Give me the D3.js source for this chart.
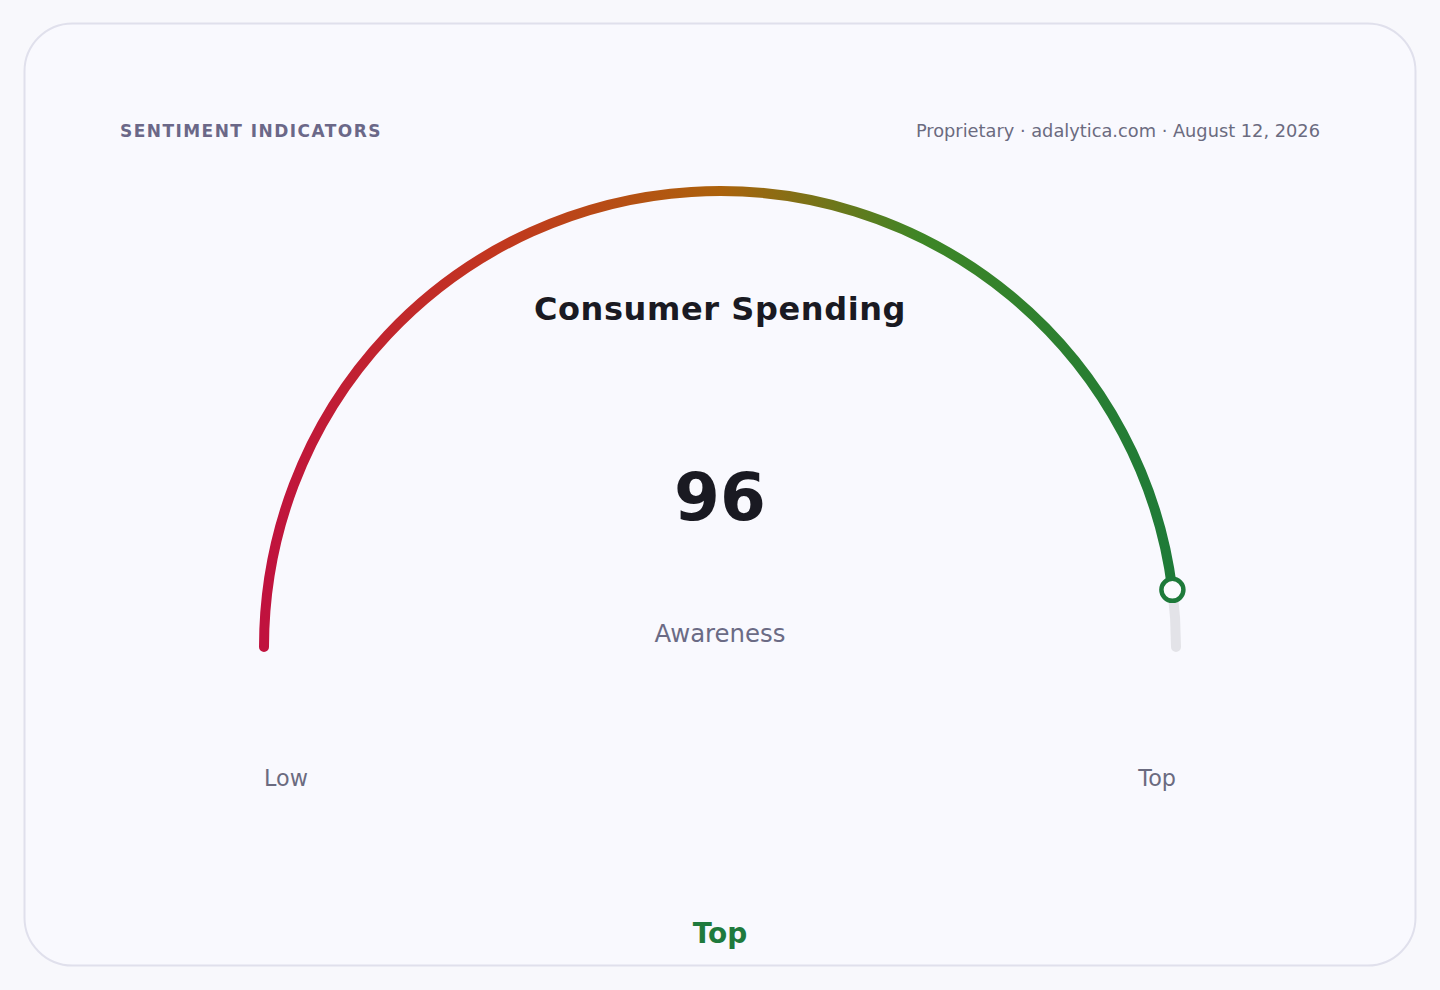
<!DOCTYPE html>
<html>
<head>
<meta charset="utf-8">
<script src="https://cdn.jsdelivr.net/npm/d3@7"></script>
<style>
  html, body { margin: 0; padding: 0; background: #f8f8fc; }
  svg { display: block; font-family: "DejaVu Sans", sans-serif; }
</style>
</head>
<body>
<div id="chart"></div>
<script>
// gauge data
const gaugeDomain = [0, 100];
const gaugeValue = 96;
const gaugeTitle = 'Consumer Spending';
const gaugeSubtitle = 'Awareness';
const endLabels = ['Low', 'Top'];
const bandLabel = 'Top';
const headerLeft = 'SENTIMENT INDICATORS';
const headerRight = 'Proprietary · adalytica.com · August 12, 2026';

const width = 1440, height = 990;
const cx = 720, cy = 647, radius = 456, thick = 10;
const gradientStops = [
    { offset: '0%', color: '#c0123e' },
    { offset: '25%', color: '#c2361f' },
    { offset: '50%', color: '#ac620c' },
    { offset: '72%', color: '#3e8626' },
    { offset: '100%', color: '#1e7a38' }
];

const svg = d3.select('#chart')
    .append('svg')
    .attr('width', width)
    .attr('height', height);

// card
svg.append('rect')
    .attr('x', 24.5).attr('y', 23.5)
    .attr('width', 1391).attr('height', 942)
    .attr('rx', 48)
    .attr('fill', '#f9f9fe')
    .attr('stroke', '#e0e0ec')
    .attr('stroke-width', 2);

const defs = svg.append('defs');
const grad = defs.append('linearGradient')
    .attr('id', 'gaugeGrad')
    .attr('gradientUnits', 'userSpaceOnUse')
    .attr('x1', -radius).attr('y1', 0)
    .attr('x2', radius).attr('y2', 0);
grad.selectAll('stop')
    .data(gradientStops)
    .enter().append('stop')
    .attr('offset', d => d.offset)
    .attr('stop-color', d => d.color);

// header
svg.append('text')
    .attr('x', 120).attr('y', 137)
    .attr('font-size', 17)
    .attr('font-weight', 'bold')
    .attr('letter-spacing', 1.45)
    .attr('fill', '#6b6888')
    .text(headerLeft);

svg.append('text')
    .attr('x', 1320).attr('y', 137)
    .attr('text-anchor', 'end')
    .attr('font-size', 17.8)
    .attr('fill', '#6b6b80')
    .text(headerRight);

// value -> angle (0 at 12 o'clock, clockwise)
const angle = d3.scaleLinear()
    .domain(gaugeDomain)
    .range([-Math.PI / 2, Math.PI / 2])
    .clamp(true);

function arcPath(v0, v1) {
    const p = d3.path();
    p.arc(0, 0, radius, angle(v0) - Math.PI / 2, angle(v1) - Math.PI / 2, false);
    return p.toString();
}

const g = svg.append('g').attr('transform', `translate(${cx},${cy})`);

// remaining track
g.append('path')
    .attr('d', arcPath(gaugeValue, gaugeDomain[1]))
    .attr('fill', 'none')
    .attr('stroke', '#e3e3e8')
    .attr('stroke-width', thick)
    .attr('stroke-linecap', 'round');

// value arc
g.append('path')
    .attr('d', arcPath(gaugeDomain[0], gaugeValue))
    .attr('fill', 'none')
    .attr('stroke', 'url(#gaugeGrad)')
    .attr('stroke-width', thick)
    .attr('stroke-linecap', 'round');

// marker
const a = angle(gaugeValue);
g.append('circle')
    .attr('cx', radius * Math.sin(a))
    .attr('cy', -radius * Math.cos(a))
    .attr('r', 11)
    .attr('fill', '#fbfbfe')
    .attr('stroke', '#1e7a3a')
    .attr('stroke-width', 4.5);

// center texts
svg.append('text')
    .attr('x', cx).attr('y', 320)
    .attr('text-anchor', 'middle')
    .attr('font-size', 32)
    .attr('font-weight', 'bold')
    .attr('letter-spacing', 0.6)
    .attr('fill', '#1a1a22')
    .text(gaugeTitle);

svg.append('text')
    .attr('x', cx).attr('y', 520)
    .attr('text-anchor', 'middle')
    .attr('font-size', 66)
    .attr('font-weight', 'bold')
    .attr('fill', '#1a1a22')
    .text(gaugeValue);

svg.append('text')
    .attr('x', cx).attr('y', 642)
    .attr('text-anchor', 'middle')
    .attr('font-size', 24.4)
    .attr('fill', '#6b6b85')
    .text(gaugeSubtitle);

// end labels
svg.append('text')
    .attr('x', cx - radius).attr('y', 786)
    .attr('font-size', 22.3)
    .attr('fill', '#6b6b80')
    .text(endLabels[0]);

svg.append('text')
    .attr('x', cx + radius).attr('y', 786)
    .attr('text-anchor', 'end')
    .attr('font-size', 22.3)
    .attr('fill', '#6b6b80')
    .text(endLabels[1]);

// band label
svg.append('text')
    .attr('x', cx).attr('y', 943)
    .attr('text-anchor', 'middle')
    .attr('font-size', 28)
    .attr('font-weight', 'bold')
    .attr('fill', '#1f7a3d')
    .text(bandLabel);
</script>
</body>
</html>
